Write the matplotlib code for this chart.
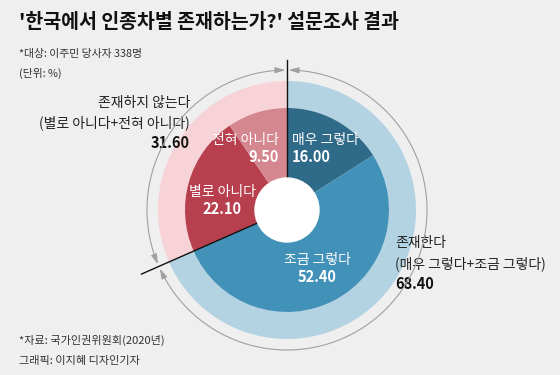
import numpy as np
import matplotlib
matplotlib.use("Agg")
from matplotlib import pyplot as plt
from matplotlib.patches import Circle, FancyArrowPatch
from matplotlib.path import Path

plt.rcParams['font.family'] = ['Noto Sans CJK KR', 'DejaVu Sans']

# 데이터 (단위: %)
outer_labels = ["존재한다", "존재하지 않는다"]
outer_values = [68.4, 31.6]
inner_labels = ["매우 그렇다", "조금 그렇다", "별로 아니다", "전혀 아니다"]
inner_values = [16.0, 52.4, 22.1, 9.5]

outer_colors = ["#b3d3e2", "#f7d3d7"]
inner_colors = ["#2f6a88", "#4291b8", "#b8404e", "#d4878f"]
bg = "#efefef"

fig = plt.figure(figsize=(5.6, 3.75), dpi=100, facecolor=bg)
ax = fig.add_axes([0, 0, 1, 1])
ax.set_facecolor(bg)

cx, cy = 287, 165  # 중심 (픽셀 좌표)
ax.pie(outer_values, radius=129, center=(cx, cy), startangle=90, counterclock=False,
       colors=outer_colors, wedgeprops=dict(width=27, linewidth=0))
ax.pie(inner_values, radius=102, center=(cx, cy), startangle=90, counterclock=False,
       colors=inner_colors, wedgeprops=dict(linewidth=0))

# 경계선
split = 90 - outer_values[0] / 100 * 360
ax.plot([cx, cx], [cy, cy + 150], color="#111111", lw=1, zorder=5)
a = np.radians(split)
ax.plot([cx, cx + 159 * np.cos(a)], [cy, cy + 159 * np.sin(a)], color="#111111", lw=1, zorder=5)
ax.add_patch(Circle((cx, cy), 32, color="white", zorder=6))

# 화살표 호
def arc(t1, t2, r=140):
    t = np.radians(np.linspace(t1, t2, 120))
    return Path(np.column_stack([cx + r * np.cos(t), cy + r * np.sin(t)]))

for t1, t2 in [(89.3, split + 1.0), (split - 1.0, -269.3)]:
    ax.add_patch(FancyArrowPatch(path=arc(t1, t2), arrowstyle="<|-|>,head_length=0.6,head_width=0.18",
                                 mutation_scale=10, color="#a0a0a0", lw=0.8, shrinkA=0, shrinkB=0,
                                 zorder=4))

def ty(y):
    return 375 - y

# 제목
ax.text(19, ty(22), "'한국에서 인종차별 존재하는가?' 설문조사 결과", fontsize=14, fontweight="bold",
        color="#111111", va="center", ha="left")
ax.text(19, ty(54), "*대상: 이주민 당사자 338명", fontsize=7.8, color="#333333", va="center")
ax.text(19, ty(73), "(단위: %)", fontsize=7.8, color="#333333", va="center")
ax.text(19, ty(340), "*자료: 국가인권위원회(2020년)", fontsize=8, color="#333333", va="center")
ax.text(19, ty(361), "그래픽: 이지혜 디자인기자", fontsize=8, color="#333333", va="center")

# 바깥 라벨
ax.text(190, ty(103), "존재하지 않는다", fontsize=10, color="#222222", ha="right", va="center")
ax.text(190, ty(123), "(별로 아니다+전혀 아니다)", fontsize=10, color="#222222", ha="right", va="center")
ax.text(190, ty(143), f"{outer_values[1]:.2f}", fontsize=10.5, fontweight="bold", color="#111111",
        ha="right", va="center")
ax.text(395, ty(243), "존재한다", fontsize=10, color="#222222", ha="left", va="center")
ax.text(395, ty(264), "(매우 그렇다+조금 그렇다)", fontsize=10, color="#222222", ha="left", va="center")
ax.text(395, ty(284), f"{outer_values[0]:.2f}", fontsize=10.5, fontweight="bold", color="#111111",
        ha="left", va="center")

# 안쪽 라벨
pos = [(292, 140, "left"), (317, 260, "center"), (222, 192, "center"), (279, 140, "right")]
for (x, y, ha), lab, v in zip(pos, inner_labels, inner_values):
    ax.text(x, ty(y), lab, fontsize=10, color="white", ha=ha, va="center", zorder=7)
    ax.text(x, ty(y + 17), f"{v:.2f}", fontsize=10.5, fontweight="bold", color="white",
            ha=ha, va="center", zorder=7)

ax.set_xlim(0, 560)
ax.set_ylim(0, 375)
ax.set_aspect("equal")
ax.axis("off")
fig.savefig("out.png", dpi=100, facecolor=bg)
